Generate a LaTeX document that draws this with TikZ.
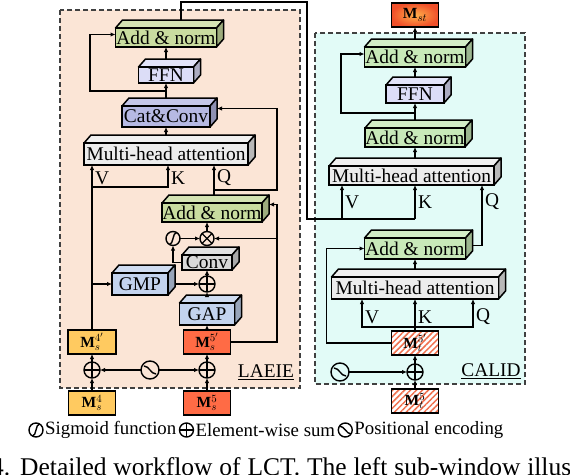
\documentclass[tikz,border=0pt]{standalone}
\usepackage{fontspec}
\setmainfont{Liberation Serif}
\usepackage{tikz}
\usetikzlibrary{arrows.meta,calc,positioning,patterns.meta}
\definecolor{laeieBg}{HTML}{FBE5D6}
\definecolor{calidBg}{HTML}{E2FBF7}
\definecolor{addL}{HTML}{C9DCA0}
\definecolor{addR}{HTML}{C8E9B9}
\definecolor{ffnC}{HTML}{DCDDF7}
\definecolor{catC}{HTML}{B6B9E3}
\definecolor{mhaC}{HTML}{ECECEC}
\definecolor{poolC}{HTML}{C3D3EE}
\definecolor{convC}{HTML}{D9D9D9}
\definecolor{msFour}{HTML}{FFCA60}
\definecolor{msFive}{HTML}{FF6B45}
\definecolor{hatchC}{HTML}{F0704E}
\definecolor{mstIn}{HTML}{FFB04A}
\definecolor{mstOut}{HTML}{F0502A}
\newcommand\lctBlock{\fontsize{19.4}{21}\selectfont}
\newcommand\lctM{\fontsize{15.5}{17}\selectfont}
\newcommand\lctLeg{\fontsize{18.8}{21}\selectfont}
\newcommand\lctCap{\fontsize{25.5}{28}\selectfont}

\begin{document}
\begin{tikzpicture}[
  x=1pt, y=-1pt,
  block/.style={draw, line width=1.5pt, fill=#1, inner sep=0pt, outer sep=0pt, font=\lctBlock,
    append after command={\pgfextra{
      \filldraw[fill=#1!80!white, line width=1.5pt, line join=round]
        (\tikzlastnode.north west) -- ++(7pt,8pt) -- ([shift={(7pt,8pt)}]\tikzlastnode.north east)
        -- (\tikzlastnode.north east) -- cycle;
      \filldraw[fill=#1!78!black, line width=1.5pt, line join=round]
        (\tikzlastnode.north east) -- ++(7pt,8pt) -- ([shift={(7pt,8pt)}]\tikzlastnode.south east)
        -- (\tikzlastnode.south east) -- cycle;}}},
  mbox/.style={draw, line width=1.5pt, minimum width=47pt, minimum height=24pt, inner sep=0pt, outer sep=0pt, font=\lctM},
  hatched/.style={mbox, preaction={fill=white}, pattern={Lines[angle=45, distance=4.2pt, line width=1.5pt]}, pattern color=hatchC},
  opsum/.style={circle, draw, line width=1.4pt, minimum size=16pt, inner sep=0pt, outer sep=0pt,
    path picture={\draw[line width=1.4pt] (path picture bounding box.north) -- (path picture bounding box.south)
      (path picture bounding box.west) -- (path picture bounding box.east);}},
  opmul/.style={circle, draw, line width=1.4pt, minimum size=14pt, inner sep=0pt, outer sep=0pt,
    path picture={\draw[line width=1.4pt] (path picture bounding box.north west) -- (path picture bounding box.south east)
      (path picture bounding box.north east) -- (path picture bounding box.south west);}},
  sigm/.style={circle, draw, line width=1.4pt, minimum size=14pt, inner sep=0pt, outer sep=0pt,
    path picture={\draw[line width=1.4pt] ([shift={(-3.5pt,-6pt)}]path picture bounding box.center)
      .. controls +(4pt,0pt) and +(-4pt,0pt) .. ([shift={(3.5pt,6pt)}]path picture bounding box.center);}},
  posenc/.style={circle, draw, line width=1.4pt, minimum size=18pt, inner sep=0pt, outer sep=0pt,
    path picture={\draw[line width=1.4pt] ([shift={(-6pt,4pt)}]path picture bounding box.center)
      .. controls +(5pt,0pt) and +(-5pt,0pt) .. ([shift={(6pt,-4pt)}]path picture bounding box.center);}},
  panel/.style={draw=black!75, dash pattern=on 5pt off 3pt, line width=1.3pt},
  arrow/.style={-{Latex[length=5pt,width=4.5pt]}, line width=1.4pt},
  wire/.style={line width=1.4pt},
  lbl/.style={font=\lctBlock, inner sep=2.5pt},
  legtext/.style={font=\lctLeg, inner sep=0pt}
]
  \useasboundingbox (0,0) rectangle (570,474);

  % sub-windows
  \draw[panel, fill=laeieBg] (60,10) rectangle (300,388);
  \draw[panel, fill=calidBg] (315,33) rectangle (525,384);

  % LAEIE
  \node[block=mhaC, minimum width=164pt, minimum height=22pt] (lMHA) at (166,154) {Multi-head attention};
  \node[block=catC, minimum width=88pt, minimum height=21pt, above=16pt of lMHA] (lCat) {Cat\&Conv};
  \node[block=ffnC, minimum width=55pt, minimum height=16pt, above=23pt of lCat] (lFFN) {FFN};
  \node[block=addL, minimum width=101pt, minimum height=19pt, above=20pt of lFFN] (lAdd2) {Add \& norm};

  \node[mbox, fill=msFive] (Ms5) at (207,403) {$\mathbf{M}_s^{5}$};
  \node[opsum, above=13pt of Ms5] (sumR) {};
  \node[mbox, fill=msFive, above=8pt of sumR] (Ms5p) {$\mathbf{M}_s^{5'}$};
  \node[block=poolC, minimum width=55pt, minimum height=22pt, above=5pt of Ms5p] (lGAP) {GAP};
  \node[opsum, above=11pt of lGAP] (sumA) {};
  \node[block=convC, minimum width=50pt, minimum height=15pt, above=6pt of sumA] (lConv) {Conv};
  \node[opmul, above=9.5pt of lConv] (mulA) {};
  \node[block=addL, minimum width=100pt, minimum height=19pt, above=9.5pt of mulA, xshift=5pt] (lAdd1) {Add \& norm};
  \node[sigm, left=20pt of mulA] (sigA) {};
  \node[block=poolC, minimum width=56pt, minimum height=22pt, left=31pt of sumA] (lGMP) {GMP};
  \node[posenc, left=40pt of sumR] (posL) {};
  \node[opsum, left=41pt of posL] (sumL) {};
  \node[mbox, fill=msFour, minimum width=48pt, above=8pt of sumL] (Ms4p) {$\mathbf{M}_s^{4'}$};
  \node[mbox, fill=msFour, below=13pt of sumL] (Ms4) {$\mathbf{M}_s^{4}$};
  \node[lbl] (laeie) at (266,372) {\underline{LAEIE}};

  % CALID
  \node[block=mhaC, minimum width=167pt, minimum height=22pt] (rMHA1) at (415,288) {Multi-head attention};
  \node[block=addR, minimum width=101pt, minimum height=21pt, above=18pt of rMHA1] (rAdd1) {Add \& norm};
  \node[block=mhaC, minimum width=165pt, minimum height=19pt, above=53pt of rAdd1, xshift=-3.5pt] (rMHA2) {Multi-head attention};
  \node[block=addR, minimum width=100pt, minimum height=19pt, above=19pt of rMHA2, xshift=3.5pt] (rAdd2) {Add \& norm};
  \node[block=ffnC, minimum width=58pt, minimum height=18pt, above=25pt of rAdd2] (rFFN) {FFN};
  \node[block=addR, minimum width=101pt, minimum height=20pt, above=18pt of rFFN] (rAdd3) {Add \& norm};
  \node[mbox, inner color=mstIn, outer color=mstOut, above=20pt of rAdd3] (Mst) {$\mathbf{M}_{st}$};
  \node[hatched, below=32pt of rMHA1] (Mt5p) {$\mathbf{M}_t^{5'}$};
  \node[opsum, below=9pt of Mt5p] (sumT) {};
  \node[hatched, below=9pt of sumT] (Mt5) {$\mathbf{M}_t^{5}$};
  \node[posenc, left=58pt of sumT] (posT) {};
  \node[lbl] (calid) at (491,371) {\underline{CALID}};

  % LAEIE connectors
  \draw[arrow] ([yshift=8pt]lMHA.north) -- (lCat.south);
  \draw[arrow] ([yshift=8pt]lCat.north) -- (lFFN.south);
  \draw[arrow] ([yshift=8pt]lFFN.north) -- (lAdd2.south);
  \coordinate (lRes) at ([yshift=-8pt]lFFN.south);
  \draw[arrow] (lRes) -- ++(-76pt,0) |- ([yshift=3pt]lAdd2.west);

  \draw[arrow] (Ms4.north) -- (sumL.south);
  \draw[arrow] (sumL.north) -- (Ms4p.south);
  \draw[arrow] (Ms5.north) -- (sumR.south);
  \draw[arrow] (sumR.north) -- (Ms5p.south);
  \draw[arrow] (posL.west) -- (sumL.east);
  \draw[arrow] (posL.east) -- (sumR.west);

  \draw[arrow] (Ms5p.north) -- (lGAP.south);
  \draw[arrow] ([yshift=8pt]lGAP.north) -- (sumA.south);
  \draw[arrow] (sumA.north) -- (lConv.south);
  \draw[arrow] (lConv.west) -| (sigA.south);
  \draw[arrow] (sigA.east) -- (mulA.west);
  \draw[arrow] (mulA.north) -- (mulA.north |- lAdd1.south);
  \draw[arrow] (Ms5p.east) -- ++(46.5pt,0) coordinate (busL) |- ([shift={(7pt,8pt)}]lAdd1.east);
  \draw[arrow] (mulA -| busL) -- (mulA.east);

  \coordinate (vkL) at (92,187);
  \coordinate (qL) at (214,190);
  \coordinate (catIn) at ([shift={(7pt,8pt)}]lCat.east);
  \draw[arrow] (Ms4p.north) -- (Ms4p.north |- lMHA.south) node[lbl, pos=0.92, right] {V};
  \draw[arrow] (vkL) -| ([xshift=2pt]lMHA.south) node[lbl, pos=0.7, right] {K};
  \draw[arrow] ([shift={(2pt,8pt)}]lAdd1.north) -- (qL |- lMHA.south) node[lbl, pos=0.57, right] {Q};
  \draw[arrow] (qL) -| (catIn -| busL) -- (catIn);
  \draw[arrow] (vkL |- lGMP.west) -- (lGMP.west);
  \draw[arrow] ([xshift=7pt]lGMP.east) -- (sumA.west);

  % LAEIE output to CALID
  \coordinate (topBus) at (307,2);
  \coordinate (vR) at (342,219);
  \coordinate (kR) at (415,219);
  \draw[wire] ([shift={(15pt,8pt)}]lAdd2.north) |- (topBus) |- (kR);
  \draw[arrow] (vR) -- (vR |- rMHA2.south) node[lbl, midway, right] {V};
  \draw[arrow] (kR) -- (kR |- rMHA2.south) node[lbl, midway, right] {K};
  \draw[arrow] ([shift={(7pt,3pt)}]rAdd1.east) -| ([xshift=70.5pt]rMHA2.south) node[lbl, pos=0.86, right] {Q};

  % CALID connectors
  \draw[arrow] ([yshift=8pt]rMHA1.north) -- (rAdd1.south);
  \draw[arrow] ([yshift=-11pt]rAdd2.south) -- (rAdd2.south);
  \draw[arrow] ([yshift=8pt]rAdd2.north) -- (rFFN.south);
  \draw[arrow] ([yshift=8pt]rFFN.north) -- (rAdd3.south);
  \draw[arrow] ([yshift=8pt]rAdd3.north) -- (Mst.south);
  \coordinate (rRes) at ([yshift=-10pt]rFFN.south);
  \draw[arrow] (rRes) -- ++(-74pt,0) |- ([yshift=3pt]rAdd3.west);

  \coordinate (vqR) at ([yshift=4pt]Mt5p.north);
  \draw[arrow] (Mt5p.north) -- (rMHA1.south) node[lbl, pos=0.44, right] {K};
  \draw[arrow] (vqR) -| ([xshift=-53pt]rMHA1.south) node[lbl, pos=0.68, right] {V};
  \draw[arrow] (vqR) -| ([xshift=58pt]rMHA1.south) node[lbl, pos=0.68, right] {Q};
  \draw[arrow] (Mt5p.west) -- ++(-65pt,0) |- (rAdd1.west);
  \draw[arrow] (Mt5.north) -- (sumT.south);
  \draw[arrow] (sumT.north) -- (Mt5p.south);
  \draw[arrow] (posT.east) -- (sumT.west);

  % legend
  \node[sigm, minimum size=14pt] (legSig) at (36,430) {};
  \node[legtext, right=2pt of legSig] (legSigT) {Sigmoid function};
  \node[opsum, minimum size=14pt, right=3pt of legSigT] (legSum) {};
  \node[legtext, right=2pt of legSum] (legSumT) {Element-wise sum};
  \node[posenc, minimum size=14pt, right=3pt of legSumT] (legPos) {};
  \node[legtext, right=2pt of legPos] (legPosT) {Positional encoding};

  \node[anchor=base west, inner sep=0pt, font=\lctCap] (caption) at (-9,475)
    {\makebox[580pt][s]{4. Detailed workflow of LCT. The left sub-window illus}};
\end{tikzpicture}
\end{document}
